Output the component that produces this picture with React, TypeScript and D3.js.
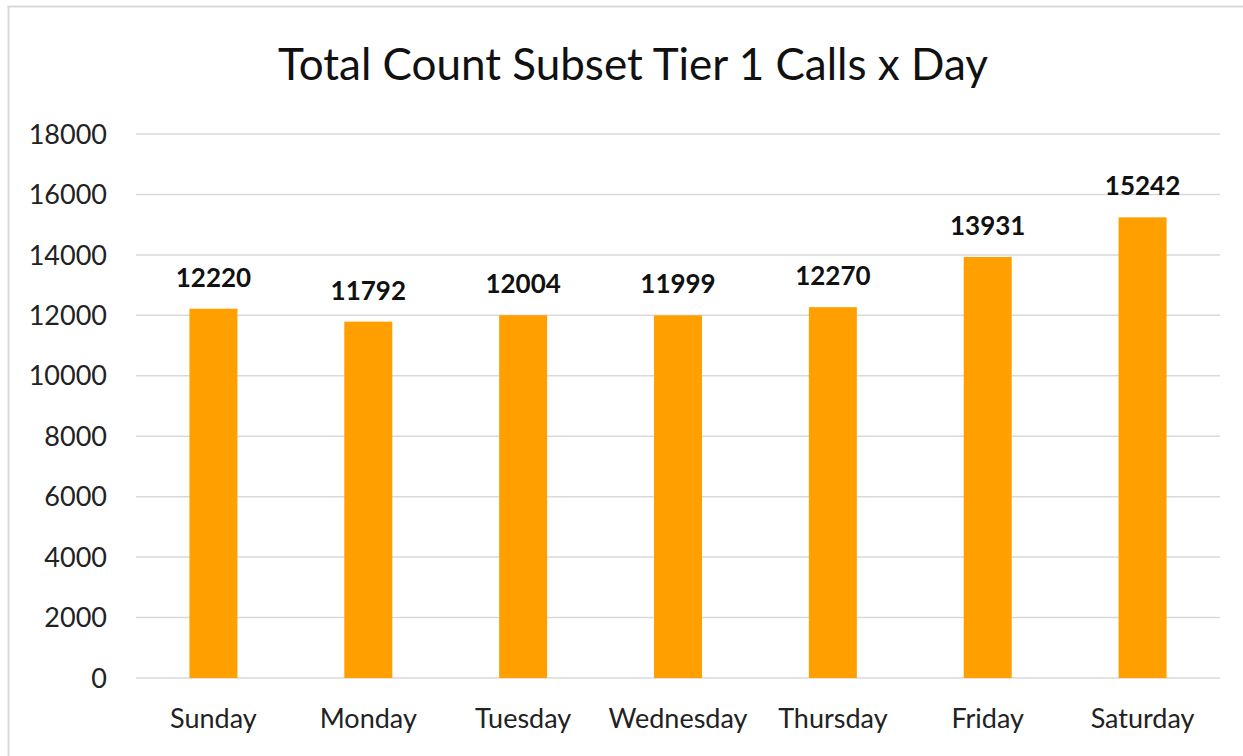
import React from "react";
import * as d3 from "d3";

const days = ["Sunday", "Monday", "Tuesday", "Wednesday", "Thursday", "Friday", "Saturday"];
const calls = [12220, 11792, 12004, 11999, 12270, 13931, 15242];
const yTicks = [0, 2000, 4000, 6000, 8000, 10000, 12000, 14000, 16000, 18000];
const title = "Total Count Subset Tier 1 Calls x Day";

const W = 1243;
const H = 756;
const font = "Lato, 'Open Sans', sans-serif";

const App = () => {
    const x = d3
        .scaleBand<string>()
        .domain(days)
        .range([136, 1220])
        .paddingInner(0.69)
        .paddingOuter(0.345);
    const y = d3.scaleLinear().domain([0, 18000]).range([678, 134]);

    return (
        <div style={{ position: "absolute", left: 0, top: 0, background: "#fff" }}>
            <svg width={W} height={H} style={{ display: "block" }}>
                <rect x={0} y={0} width={W} height={H} fill="#fff" />
                {/* chart frame, runs off the right/bottom edges */}
                <rect x={8.5} y={6.5} width={W + 20} height={H + 20} fill="none" stroke="#d9d9d9" strokeWidth={2} />

                <text x={633} y={80} textAnchor="middle" fontFamily={font} fontSize={44} fill="#111">
                    {title}
                </text>

                {yTicks.map(t => (
                    <g key={t}>
                        <line x1={136} x2={1220} y1={y(t)} y2={y(t)} stroke="#d9d9d9" strokeWidth={1.5} />
                        <text x={107} y={y(t)} dy="0.36em" textAnchor="end" fontFamily={font} fontSize={27} fill="#222">
                            {t}
                        </text>
                    </g>
                ))}

                {days.map((d, i) => (
                    <g key={d}>
                        <rect
                            x={x(d)}
                            y={y(calls[i])}
                            width={x.bandwidth()}
                            height={y(0) - y(calls[i])}
                            fill="#ffa000"
                        />
                        <text
                            x={(x(d) ?? 0) + x.bandwidth() / 2}
                            y={y(calls[i]) - 22}
                            textAnchor="middle"
                            fontFamily={font}
                            fontWeight="bold"
                            fontSize={26}
                            fill="#111"
                        >
                            {calls[i]}
                        </text>
                        <text
                            x={(x(d) ?? 0) + x.bandwidth() / 2}
                            y={728}
                            textAnchor="middle"
                            fontFamily={font}
                            fontSize={27}
                            fill="#222"
                        >
                            {d}
                        </text>
                    </g>
                ))}
            </svg>
        </div>
    );
};

export default App;
